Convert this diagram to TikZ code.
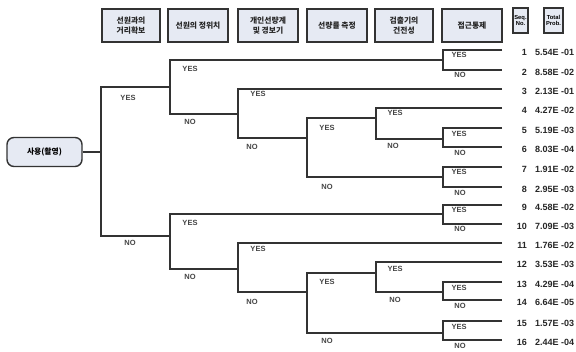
\documentclass[tikz,border=0pt]{standalone}
\usepackage{fontspec}
\setmainfont{Liberation Sans}
\newfontfamily\kr{Noto Sans CJK KR}
\definecolor{boxfill}{HTML}{E6EAF3}
\definecolor{linec}{HTML}{333333}
\definecolor{labc}{HTML}{444444}
\begin{document}
\begin{tikzpicture}[x=1pt,y=-1pt,
  tl/.style={draw=linec,line width=1.7pt},
  hdr/.style={draw=linec,line width=1.3pt,fill=boxfill,minimum height=33pt,inner sep=1pt,align=center,font=\kr\fontsize{7.8}{9.5}\selectfont\bfseries,text=black!85},
  sbox/.style={draw=linec,line width=1.1pt,fill=boxfill,minimum height=25pt,inner sep=0.5pt,align=center,font=\fontsize{5.8}{6.5}\selectfont\bfseries},
  yn/.style={font=\fontsize{7.5}{8}\selectfont\bfseries,text=labc,inner sep=0pt},
  seq/.style={font=\fontsize{9}{9}\selectfont\bfseries,text=black!85,inner sep=0pt,anchor=east},
  prob/.style={font=\fontsize{9}{9}\selectfont\bfseries,text=black!85,inner sep=0pt,anchor=west}]
\useasboundingbox[fill=white] (0,0) rectangle (576,352);
% header boxes
\node[hdr,minimum width=58pt] (h1) at (131,25.5) {선원과의\\거리확보};
\node[hdr,minimum width=60pt] (h2) at (198,25.5) {선원의 정위치};
\node[hdr,minimum width=60pt] (h3) at (268,25.5) {개인선량계\\및 경보기};
\node[hdr,minimum width=60pt] (h4) at (337,25.5) {선량률 측정};
\node[hdr,minimum width=58pt] (h5) at (404,25.5) {검출기의\\건전성};
\node[hdr,minimum width=60pt] (h6) at (472,25.5) {접근통제};
\node[sbox,minimum width=15pt] (hs) at (520.5,20.5) {Seq.\\No.};
\node[sbox,minimum width=19pt] (hp) at (553.5,20.5) {Total\\Prob.};
% root
\node[draw=linec,line width=1.4pt,fill=boxfill,rounded corners=7pt,minimum width=75pt,minimum height=29pt,font=\kr\fontsize{7.8}{9}\selectfont\bfseries] (root) at (44.5,152) {사용(촬영)};
% leaf end coordinates
\foreach \i/\y in {1/50,2/70,3/89,4/108,5/128,6/147,7/167,8/187,9/205,10/224,11/243,12/262,13/282,14/300,15/321,16/340}{
  \coordinate (l\i) at (502,\y);
}
% tree
\draw[tl] (root.east) -- (101,152);
\draw[tl] (170,87) -| (101,236) -- (170,236);
\draw[tl] (443,60) -| (170,114) -- (238,114);
\draw[tl] (l1) -| (443,70) -- (l2);
\draw[tl] (l3) -| (238,138) -- (307,138);
\draw[tl] (376,118) -| (307,177) -- (443,177);
\draw[tl] (l4) -| (376,139) -- (443,139);
\draw[tl] (l5) -| (443,147) -- (l6);
\draw[tl] (l7) -| (443,187) -- (l8);
\draw[tl] (443,214) -| (170,269) -- (238,269);
\draw[tl] (l9) -| (443,224) -- (l10);
\draw[tl] (l11) -| (238,292) -- (307,292);
\draw[tl] (376,273) -| (307,333) -- (443,333);
\draw[tl] (l12) -| (376,292) -- (443,292);
\draw[tl] (l13) -| (443,300) -- (l14);
\draw[tl] (l15) -| (443,340) -- (l16);
% YES/NO labels
\foreach \x/\y/\t in {128/98/YES,130/243/NO,190/69/YES,190/122/NO,258/94/YES,252/147/NO,
  190/223/YES,190/277/NO,258/249/YES,252/302/NO,327/128/YES,327/187/NO,327/282/YES,327/341/NO,
  395/113/YES,393/146/NO,395/269/YES,395/300/NO,
  459/55/YES,460/75/NO,459/134/YES,460/153/NO,459/172/YES,460/193/NO,
  459/210/YES,460/229/NO,459/288/YES,460/306/NO,459/327/YES,460/346/NO}{
  \node[yn] at (\x,\y) {\t};
}
% seq and prob
\foreach \i/\p in {1/5.54E -01,2/8.58E -02,3/2.13E -01,4/4.27E -02,5/5.19E -03,6/8.03E -04,7/1.91E -02,8/2.95E -03,9/4.58E -02,10/7.09E -03,11/1.76E -02,12/3.53E -03,13/4.29E -04,14/6.64E -05,15/1.57E -03,16/2.44E -04}{
  \node[seq] (s\i) at ([xshift=25pt,yshift=-2pt]l\i) {\i};
  \node[prob] (p\i) at ([xshift=33pt,yshift=-2pt]l\i) {\p};
}
\end{tikzpicture}
\end{document}
